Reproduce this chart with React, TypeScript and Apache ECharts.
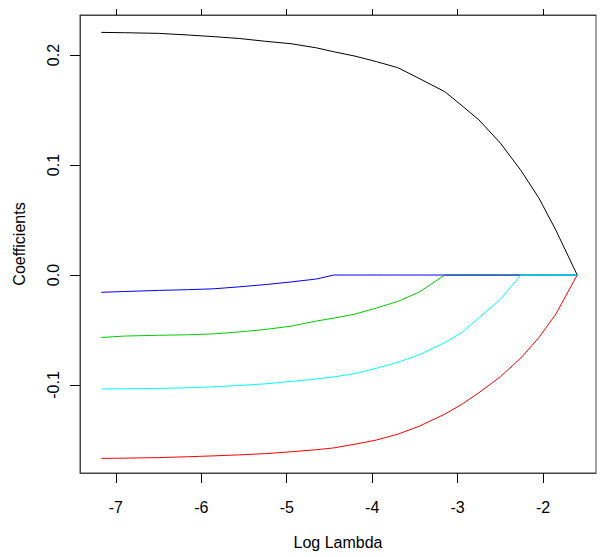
import React, { useEffect, useRef } from "react";
import * as echarts from "echarts";

// Log(lambda) grid of the glmnet path
const logLambda = [-7.17, -6.9, -6.5, -6.15, -5.85, -5.55, -5.25, -4.95, -4.65, -4.45, -4.2, -3.95, -3.7, -3.45, -3.15, -2.95, -2.75, -2.5, -2.26, -2.05, -1.85, -1.6];

const coefBlack = [0.2206, 0.2203, 0.2197, 0.2182, 0.2167, 0.215, 0.2125, 0.2103, 0.2065, 0.203, 0.199, 0.194, 0.1885, 0.1787, 0.1667, 0.154, 0.141, 0.12, 0.0952, 0.0702, 0.0408, 0];
const coefRed = [-0.1667, -0.1665, -0.166, -0.1652, -0.1644, -0.1635, -0.1624, -0.1607, -0.1588, -0.1572, -0.1538, -0.15, -0.1447, -0.1375, -0.1265, -0.1175, -0.107, -0.0925, -0.0755, -0.057, -0.0355, 0];
const coefGreen = [-0.0568, -0.0555, -0.0548, -0.0543, -0.0535, -0.0517, -0.0495, -0.0465, -0.0418, -0.0392, -0.0355, -0.03, -0.024, -0.0155, 0, 0, 0, 0, 0, 0, 0, 0];
const coefBlue = [-0.0157, -0.015, -0.014, -0.0133, -0.0125, -0.0107, -0.0087, -0.0063, -0.0036, 0, 0, 0, 0, 0, 0, 0, 0, 0, 0, 0, 0, 0];
const coefCyan = [-0.1036, -0.1034, -0.1031, -0.1025, -0.1016, -0.1004, -0.0989, -0.0968, -0.0945, -0.0926, -0.0896, -0.0848, -0.0793, -0.0725, -0.0615, -0.0522, -0.0388, -0.0222, 0, 0, 0, 0];

const xTicks = [-7, -6, -5, -4, -3, -2];
const yTicks = [-0.1, 0.0, 0.1, 0.2];

const seriesDefs = [
  { name: "V1", color: "#000000", values: coefBlack },
  { name: "V2", color: "#FF0000", values: coefRed },
  { name: "V3", color: "#00CD00", values: coefGreen },
  { name: "V4", color: "#0000FF", values: coefBlue },
  { name: "V5", color: "#00FFFF", values: coefCyan },
];

const FONT = "'Liberation Sans', Arial, sans-serif";

export default function App() {
  const ref = useRef<HTMLDivElement>(null);
  useEffect(() => {
    if (!ref.current) return;
    const chart = echarts.init(ref.current, null, { renderer: "svg" });
    const xMin = -7.42;
    const xMax = -1.38;
    chart.setOption({
      animation: false,
      backgroundColor: "#ffffff",
      textStyle: { fontFamily: FONT, color: "#000" },
      grid: {
        left: 80,
        right: 5,
        top: 15,
        bottom: 84,
        show: true,
        borderColor: "#444",
        borderWidth: 1,
        backgroundColor: "transparent",
      },
      xAxis: [
        {
          type: "value",
          position: "bottom",
          min: xMin,
          max: xMax,
          name: "Log Lambda",
          nameLocation: "middle",
          nameGap: 61,
          nameTextStyle: { fontSize: 16, color: "#000", fontFamily: FONT },
          axisLine: { show: true, onZero: false, lineStyle: { color: "#444", width: 1 } },
          axisTick: { show: true, length: 10, customValues: xTicks, lineStyle: { color: "#000" } },
          axisLabel: {
            show: true,
            customValues: xTicks,
            margin: 26,
            fontSize: 16,
            color: "#000",
            fontFamily: FONT,
            formatter: (v: number) => String(Math.round(v)),
          },
          splitLine: { show: false },
        },
        {
          type: "value",
          position: "top",
          min: xMin,
          max: xMax,
          axisLine: { show: true, onZero: false, lineStyle: { color: "#444", width: 1 } },
          axisTick: { show: true, length: 6, customValues: xTicks, lineStyle: { color: "#000" } },
          axisLabel: { show: false },
          splitLine: { show: false },
        },
      ],
      yAxis: {
        type: "value",
        min: -0.18,
        max: 0.2364,
        name: "Coefficients",
        nameLocation: "middle",
        nameGap: 53,
        nameRotate: 90,
        nameTextStyle: { fontSize: 16, color: "#000", fontFamily: FONT },
        axisLine: { show: true, onZero: false, lineStyle: { color: "#444", width: 1 } },
        axisTick: { show: true, length: 10, customValues: yTicks, lineStyle: { color: "#000" } },
        axisLabel: {
          show: true,
          customValues: yTicks,
          rotate: 90,
          margin: 19,
          fontSize: 16,
          color: "#000",
          fontFamily: FONT,
          formatter: (v: number) => v.toFixed(1),
        },
        splitLine: { show: false },
      },
      series: seriesDefs.map((s) => ({
        name: s.name,
        type: "line",
        xAxisIndex: 0,
        data: logLambda.map((x, i) => [x, s.values[i]]),
        showSymbol: false,
        symbol: "none",
        lineStyle: { color: s.color, width: 1 },
        itemStyle: { color: s.color },
        silent: true,
      })),
    });
    return () => chart.dispose();
  }, []);
  return (
    <div
      ref={ref}
      style={{ position: "fixed", left: 0, top: 0, width: 601, height: 557, background: "#fff" }}
    />
  );
}
